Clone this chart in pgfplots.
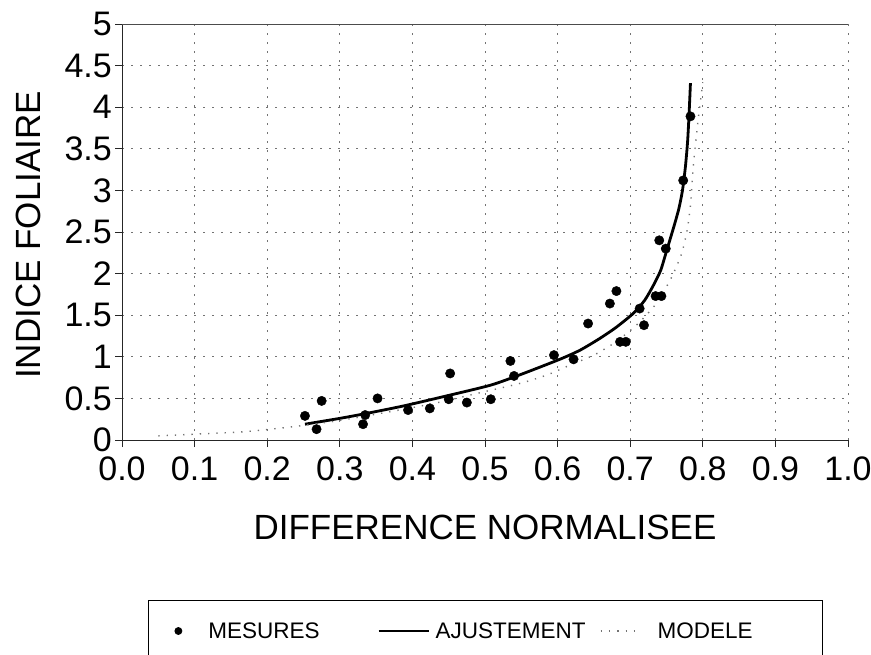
\documentclass[border=0pt]{standalone}
\usepackage{pgfplots}
\pgfplotsset{compat=1.18}
\usepackage{fontspec}
\setmainfont{Liberation Sans}
\begin{document}
\begin{tikzpicture}
\path[use as bounding box] (0,0) rectangle (871pt,-654pt);
\begin{axis}[
  at={(122pt,-440pt)}, anchor=south west,
  scale only axis, width=726pt, height=416pt,
  xmin=0, xmax=1, ymin=0, ymax=5,
  xtick={0,0.1,...,1.0}, ytick={0,0.5,...,5},
  axis x line=bottom, axis y line=left,
  axis line style={-, line width=0.9pt, black!85},
  tick align=outside, major tick length=7pt,
  tick style={line width=0.9pt, black!85},
  grid=major,
  major grid style={black!55, line width=1pt, dash pattern=on 1.8pt off 7.2pt},
  xticklabel={\pgfmathprintnumber[fixed,fixed zerofill,precision=1,assume math mode=true]{\tick}},
  yticklabel={\pgfmathprintnumber[fixed,precision=1,assume math mode=true]{\tick}},
  ticklabel style={font=\fontsize{34}{38}\selectfont, inner sep=0pt},
  xticklabel style={anchor=north, yshift=-10pt},
  yticklabel style={anchor=east, xshift=-3pt},
  xlabel={DIFFERENCE NORMALISEE},
  ylabel={INDICE FOLIAIRE},
  label style={font=\fontsize{35}{40}\selectfont, inner sep=0pt},
  xlabel style={at={(axis description cs:0.5,0)}, anchor=center, yshift=-87pt},
  ylabel style={at={(axis description cs:0,0.493)}, anchor=center, rotate=0, xshift=0pt, yshift=94pt},
  clip=false,
  legend style={at={(0.0358,-0.3846)}, anchor=north west, legend columns=3,
    draw=black, line width=0.8pt, inner xsep=0pt, inner ysep=22pt,
    font=\fontsize{22.5}{26}\selectfont,
    nodes={inner sep=0pt}, column sep=0pt},
  legend cell align=left,
]
\addplot[only marks, mark=*, mark size=4.7pt, black,
  legend image code/.code={\path[draw=none,fill=none] (0pt,-5pt) rectangle (60pt,5pt); \fill[black] (30pt,0pt) circle (3.5pt);}]
  coordinates {
  (0.252,0.29) (0.268,0.13) (0.275,0.47) (0.332,0.19) (0.335,0.30) (0.352,0.50)
  (0.394,0.36) (0.424,0.38) (0.450,0.49) (0.452,0.80) (0.475,0.45) (0.508,0.49)
  (0.535,0.95) (0.540,0.77) (0.595,1.02) (0.622,0.97) (0.642,1.40) (0.672,1.64)
  (0.681,1.79) (0.686,1.18) (0.694,1.18) (0.713,1.58) (0.719,1.38) (0.735,1.73)
  (0.743,1.73) (0.740,2.40) (0.749,2.30) (0.773,3.12) (0.783,3.89)
  };
\addlegendentry{MESURES}
\addplot[black, line width=2.8pt, smooth, tension=0.4, mark=none,
  legend image code/.code={\path[draw=none,fill=none] (0pt,-5pt) rectangle (116pt,5pt); \draw[black, line width=2.2pt] (59pt,0pt) -- (109pt,0pt);}]
  coordinates {
  (0.252,0.19) (0.30,0.26) (0.337,0.32) (0.388,0.41) (0.447,0.53) (0.508,0.66)
  (0.55,0.79) (0.603,0.97) (0.631,1.08) (0.658,1.22) (0.68,1.35) (0.704,1.52)
  (0.72,1.68) (0.732,1.86) (0.742,2.04) (0.750,2.27) (0.760,2.56) (0.767,2.78)
  (0.772,3.00) (0.776,3.28) (0.779,3.58) (0.781,3.90) (0.783,4.29)
  };
\addlegendentry{AJUSTEMENT}
\addplot[black!55, line width=1.4pt, dash pattern=on 1.3pt off 7pt, smooth, tension=0.4, mark=none,
  legend image code/.code={\path[draw=none,fill=none] (0pt,-5pt) rectangle (72pt,5pt); \draw[black!55, line width=1.4pt, dash pattern=on 1.3pt off 7pt] (15pt,0pt) -- (53pt,0pt);}]
  coordinates {
  (0.05,0.05) (0.10,0.07) (0.169,0.10) (0.236,0.16) (0.296,0.23) (0.369,0.34)
  (0.43,0.44) (0.489,0.56) (0.548,0.68) (0.585,0.78) (0.617,0.90) (0.65,1.02)
  (0.677,1.16) (0.695,1.28) (0.711,1.40) (0.734,1.62) (0.755,1.92) (0.770,2.22)
  (0.778,2.50) (0.783,2.82) (0.787,3.30) (0.792,3.73) (0.796,4.02) (0.800,4.30)
  };
\addlegendentry{MODELE\hspace*{70pt}}
\draw[line width=0.9pt, black!70] (rel axis cs:0,1) -- (rel axis cs:1,1);
\end{axis}
\end{tikzpicture}
\end{document}
